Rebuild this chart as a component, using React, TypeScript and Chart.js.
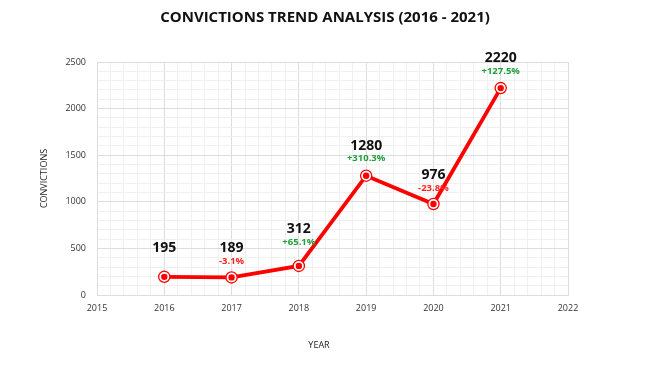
import React, { useEffect, useRef } from "react";
import { Chart, registerables } from "chart.js";

Chart.register(...registerables);

const YEARS = [2016, 2017, 2018, 2019, 2020, 2021];
const CONVICTIONS = [195, 189, 312, 1280, 976, 2220];
const X_MIN = 2015;
const X_MAX = 2022;
const Y_MIN = 0;
const Y_MAX = 2500;
const TITLE = "CONVICTIONS TREND ANALYSIS (2016 - 2021)";
const X_TITLE = "YEAR";
const Y_TITLE = "CONVICTIONS";
const LABEL_LIFT = [0, 0, 8, 1, 0, 1];

const FONT = "'Open Sans', 'Noto Sans', sans-serif";
const RED = "#ff0000";
const GREEN = "#1f9e3c";
const NEG = "#ff2222";

const isMultiple = (v: number, step: number) => {
  const r = v / step;
  return Math.abs(r - Math.round(r)) < 1e-6;
};

const labelsPlugin = {
  id: "valueLabels",
  afterDatasetsDraw(chart: any) {
    const meta = chart.getDatasetMeta(0);
    const ctx = chart.ctx;
    ctx.save();
    ctx.textAlign = "center";
    ctx.textBaseline = "middle";
    meta.data.forEach((pt: any, i: number) => {
      const lift = LABEL_LIFT[i] || 0;
      ctx.fillStyle = "#111111";
      ctx.font = `bold 14px ${FONT}`;
      ctx.fillText(String(CONVICTIONS[i]), pt.x, pt.y - 29 - lift);
      if (i > 0) {
        const prev = CONVICTIONS[i - 1];
        const pct = ((CONVICTIONS[i] - prev) / prev) * 100;
        const txt = (pct >= 0 ? "+" : "") + pct.toFixed(1) + "%";
        ctx.fillStyle = pct >= 0 ? GREEN : NEG;
        ctx.font = `bold 9.5px ${FONT}`;
        ctx.fillText(txt, pt.x, pt.y - 16 - lift);
      }
    });
    const xs = chart.scales.x;
    ctx.fillStyle = "#222222";
    ctx.font = `9px ${FONT}`;
    ctx.fillText(X_TITLE, chart.width / 2 - 6, xs.bottom - 30);
    ctx.restore();
  },
};

export default function App() {
  const ref = useRef<HTMLCanvasElement | null>(null);

  useEffect(() => {
    document.body.style.margin = "0";
    const canvas = ref.current;
    if (!canvas) return;
    const points = YEARS.map((y, i) => ({ x: y, y: CONVICTIONS[i] }));
    const chart = new Chart(canvas, {
      type: "line",
      data: {
        datasets: [
          {
            data: points,
            showLine: false,
            pointRadius: 3.2,
            pointBackgroundColor: RED,
            pointBorderWidth: 0,
            order: 0,
          },
          {
            data: points,
            borderColor: RED,
            borderWidth: 3.8,
            pointRadius: 5.6,
            pointBackgroundColor: "#ffffff",
            pointBorderColor: RED,
            pointBorderWidth: 1.3,
            tension: 0,
            order: 1,
          },
        ],
      },
      plugins: [labelsPlugin],
      options: {
        responsive: false,
        animation: false,
        events: [],
        layout: { padding: 0 },
        plugins: {
          legend: { display: false },
          tooltip: { enabled: false },
          title: {
            display: true,
            text: TITLE,
            color: "#111111",
            font: { family: FONT, size: 15, weight: "bold" },
            padding: { top: 9, bottom: 35 },
          },
        },
        scales: {
          x: {
            type: "linear",
            min: X_MIN,
            max: X_MAX,
            afterFit: (s: any) => {
              s.height = 80;
            },
            ticks: {
              stepSize: 0.2,
              autoSkip: false,
              maxRotation: 0,
              padding: 8,
              color: "#333333",
              font: { family: FONT, size: 9 },
              callback: (v: any) => (isMultiple(Number(v), 1) ? String(Math.round(Number(v))) : ""),
            },
            grid: {
              drawTicks: false,
              color: (c: any) =>
                c.tick && isMultiple(c.tick.value, 1) ? "#dddddd" : "#f0f0f0",
              lineWidth: 1,
            },
            border: { display: true, color: "#dddddd" },
          },
          y: {
            type: "linear",
            position: "left",
            min: Y_MIN,
            max: Y_MAX,
            afterFit: (s: any) => {
              s.width = 97;
            },
            ticks: {
              stepSize: 100,
              autoSkip: false,
              padding: 11,
              color: "#333333",
              font: { family: FONT, size: 9 },
              callback: (v: any) => (isMultiple(Number(v), 500) ? String(Math.round(Number(v))) : ""),
            },
            grid: {
              drawTicks: false,
              color: (c: any) =>
                c.tick && isMultiple(c.tick.value, 500) ? "#dddddd" : "#f0f0f0",
              lineWidth: 1,
            },
            border: { display: true, color: "#dddddd" },
            title: {
              display: true,
              text: Y_TITLE,
              color: "#222222",
              font: { family: FONT, size: 9 },
              padding: { top: 38.6, bottom: 0 },
            },
          },
          yRight: {
            type: "linear",
            position: "right",
            min: Y_MIN,
            max: Y_MAX,
            afterFit: (s: any) => {
              s.width = 82;
            },
            ticks: { display: false },
            grid: { display: false, drawOnChartArea: false, drawTicks: false },
            border: { display: false },
          },
        },
      },
    } as any);
    return () => chart.destroy();
  }, []);

  return (
    <div style={{ position: "absolute", left: 0, top: 0, width: 650, height: 375, background: "#ffffff" }}>
      <canvas ref={ref} width={650} height={375} />
    </div>
  );
}
